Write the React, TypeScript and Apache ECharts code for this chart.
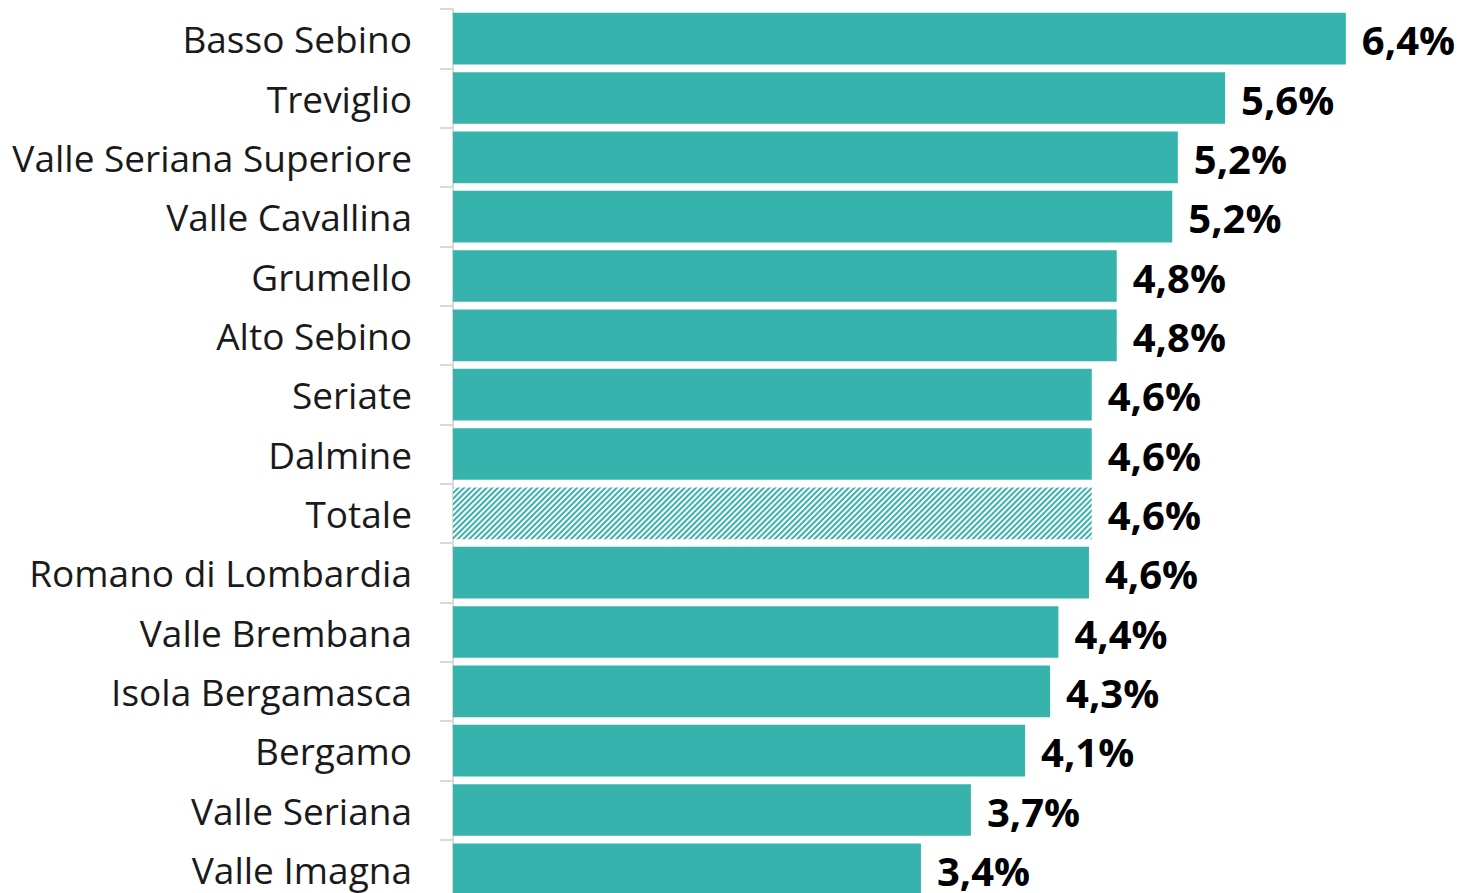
import React, { useEffect, useRef } from "react";
import * as echarts from "echarts";

const categories = [
  "Basso Sebino",
  "Treviglio",
  "Valle Seriana Superiore",
  "Valle Cavallina",
  "Grumello",
  "Alto Sebino",
  "Seriate",
  "Dalmine",
  "Totale",
  "Romano di Lombardia",
  "Valle Brembana",
  "Isola Bergamasca",
  "Bergamo",
  "Valle Seriana",
  "Valle Imagna",
];

const values = [6.43, 5.56, 5.22, 5.18, 4.78, 4.78, 4.6, 4.6, 4.6, 4.58, 4.36, 4.3, 4.12, 3.73, 3.37];

const TEAL = "#37B3AD";

export default function App() {
  const ref = useRef<HTMLDivElement>(null);
  useEffect(() => {
    if (!ref.current) return;
    const chart = echarts.init(ref.current, undefined, { renderer: "svg" });
    const data = values.map((v, i) =>
      categories[i] === "Totale"
        ? {
            value: v,
            itemStyle: {
              color: "#ffffff",
              decal: {
                symbol: "rect",
                color: TEAL,
                backgroundColor: "#ffffff",
                dashArrayX: [1, 0],
                dashArrayY: [2, 2],
                rotation: -Math.PI / 4,
                symbolSize: 1,
              },
            },
          }
        : { value: v }
    );
    chart.setOption({
      animation: false,
      textStyle: { fontFamily: "Open Sans" },
      grid: { left: 453, right: 37, top: 9, bottom: 0, containLabel: false },
      xAxis: {
        type: "value",
        min: 0,
        max: 7,
        show: false,
      },
      yAxis: {
        type: "category",
        data: categories,
        inverse: true,
        axisLine: { show: true, lineStyle: { color: "#d9d9d9", width: 2 } },
        axisTick: { show: true, length: 13, lineStyle: { color: "#d9d9d9", width: 2 } },
        axisLabel: {
          margin: 41,
          fontSize: 37,
          color: "#1a1a1a",
          fontFamily: "Open Sans",
        },
        splitLine: { show: false },
      },
      series: [
        {
          type: "bar",
          data,
          barCategoryGap: "13%",
          itemStyle: { color: TEAL },
          label: {
            show: true,
            position: "right",
            distance: 16,
            fontSize: 40,
            fontWeight: "bold",
            color: "#000",
            fontFamily: "Open Sans",
            offset: [0, 1],
            formatter: (p: any) => p.value.toFixed(1).replace(".", ",") + "%",
          },
        },
      ],
    });
    return () => chart.dispose();
  }, []);
  return (
    <div
      ref={ref}
      style={{ position: "fixed", left: 0, top: 0, width: 1462, height: 899, background: "#fff" }}
    />
  );
}
